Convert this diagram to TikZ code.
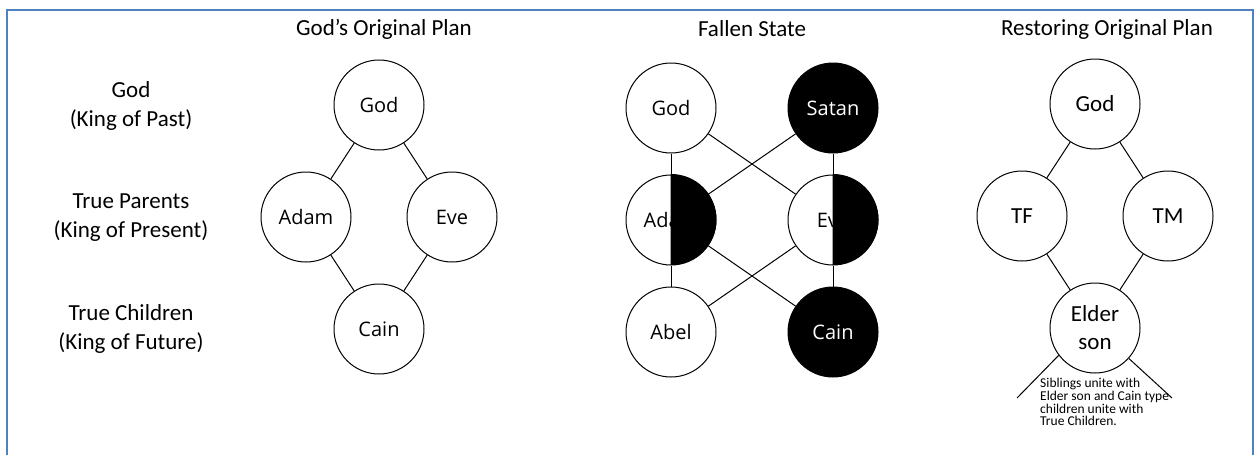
\documentclass[tikz,border=0pt]{standalone}
\usepackage{fontspec}
\setmainfont{Carlito}
\newfontfamily\circfont{Open Sans}
\usetikzlibrary{positioning}
\definecolor{framecol}{RGB}{79,129,189}
\tikzstyle{person} = [circle, draw, line width=1pt, minimum size=90pt, inner sep=0pt, font=\circfont\fontsize{20}{24}\selectfont]
\tikzstyle{fallen} = [person, fill=black, text=white]
\tikzstyle{restored} = [person, align=center, font=\fontsize{23}{28}\selectfont]
\tikzstyle{heading} = [font=\fontsize{23}{28}\selectfont]
\tikzstyle{rowlabel} = [align=center, font=\fontsize{23}{29}\selectfont]
\tikzstyle{note} = [align=left, inner sep=0pt, font=\fontsize{13.5}{12.8}\selectfont]
\tikzstyle{link} = [line width=1pt]

\begin{document}
\begin{tikzpicture}[x=1pt, y=-1pt, node distance=112pt]
    \useasboundingbox (0,0) rectangle (1257,455);
    \draw [line width=2pt, framecol] (7,455) -- (7,10) -- (1253,10) -- (1253,455);

    % Headings
    \node [heading] (title1) at (384,29) {God's Original Plan};
    \node [heading] (title2) at (752,29) {Fallen State};
    \node [heading] (title3) at (1107,29) {Restoring Original Plan};

    % Row labels
    \node [rowlabel] (past) at (131,106) {God\\(King of Past)};
    \node [rowlabel] (present) at (131,218) {True Parents\\(King of Present)};
    \node [rowlabel] (future) at (131,329) {True Children\\(King of Future)};

    % God's original plan
    \node [person] (lgod) at (379,105) {God};
    \node [person, below of=lgod, xshift=-73pt] (ladam) {Adam};
    \node [person, below of=lgod, xshift=73pt] (leve) {Eve};
    \node [person, below of=ladam, xshift=73pt] (lcain) {Cain};

    \draw [link] (lgod) -- (ladam);
    \draw [link] (lgod) -- (leve);
    \draw [link] (ladam) -- (lcain);
    \draw [link] (leve) -- (lcain);

    % Fallen state
    \node [person] (mgod) at (671,108) {God};
    \node [fallen] (msatan) at (833,108) {Satan};
    \node [person, below of=mgod] (madam) {Adam};
    \node [person, below of=msatan] (meve) {Eve};
    \node [person, below of=madam] (mabel) {Abel};
    \node [fallen, below of=meve] (mcain) {Cain};
    \filldraw [link] (madam.north) arc[start angle=90, end angle=-90, radius=45pt] -- cycle;
    \filldraw [link] (meve.north) arc[start angle=90, end angle=-90, radius=45pt] -- cycle;

    \draw [link] (mgod) -- (madam);
    \draw [link] (mgod) -- (meve);
    \draw [link] (msatan) -- (madam);
    \draw [link] (msatan) -- (meve);
    \draw [link] (madam) -- (mabel);
    \draw [link] (madam) -- (mcain);
    \draw [link] (meve) -- (mabel);
    \draw [link] (meve) -- (mcain);

    % Restoring original plan
    \node [restored] (rgod) at (1095,104) {God};
    \node [restored, below of=rgod, xshift=-73pt] (rtf) {TF};
    \node [restored, below of=rgod, xshift=73pt] (rtm) {TM};
    \node [restored, below of=rtf, xshift=73pt] (relder) {Elder\\son};
    \coordinate (tailleft) at (1017,398);
    \coordinate (tailright) at (1172,398);

    \draw [link] (rgod) -- (rtf);
    \draw [link] (rgod) -- (rtm);
    \draw [link] (rtf) -- (relder);
    \draw [link] (rtm) -- (relder);
    \draw [link] (relder.217) -- (tailleft);
    \draw [link] (relder.318) -- (tailright);
    \node [note, anchor=north west] (unite) at (1040,378) {Siblings unite with\\Elder son and Cain type\\children unite with\\True Children.};
\end{tikzpicture}
\end{document}
